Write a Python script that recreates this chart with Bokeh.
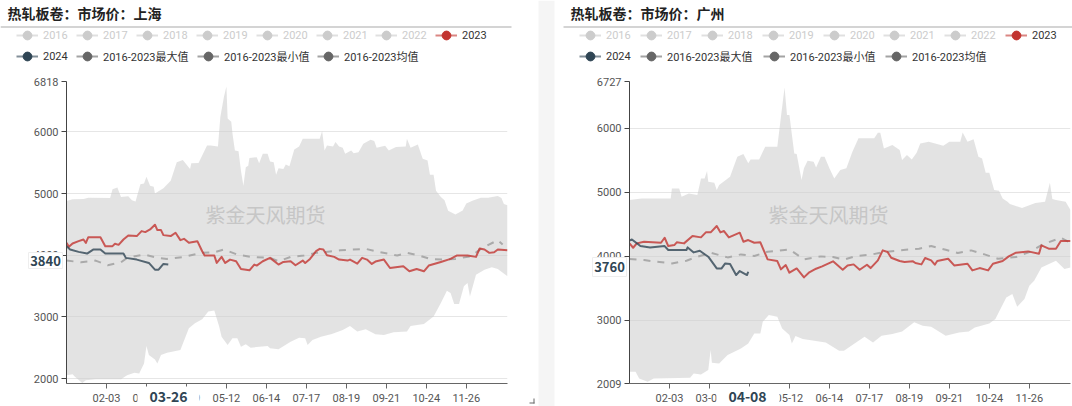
from bokeh.embed import file_html
from bokeh.resources import INLINE
from bokeh.layouts import column, row
from bokeh.plotting import figure
from bokeh.models import (BoxAnnotation, ColumnDataSource, FixedTicker, Label, Legend, LegendItem, Range1d)

FONT = "Roboto, 'Noto Sans CJK SC'"
CJK = "'Noto Sans CJK SC'"

legend_off = ["2016", "2017", "2018", "2019", "2020", "2021", "2022"]
name_2023 = "2023"
name_2024 = "2024"
names_band = ["2016-2023最大值", "2016-2023最小值", "2016-2023均值"]

tick_days = [33, 66, 99, 132, 165, 198, 231, 264, 297, 330]
tick_labels = ["02-03", "03-07", "04-09", "05-12", "06-14", "07-17", "08-19", "09-21", "10-24", "11-26"]

# ---------- Shanghai ----------
sh_title = "热轧板卷：市场价：上海"
sh_yticks = [2000, 3000, 4000, 5000, 6000, 6818]
sh_ymin = 1919
sh_max_days = [0,5,14,18,36,38,42,45,51,54,57,61,64,66,69,72,73,80,86,91,96,102,103,109,116,119,125,127,130,132,133,136,137,139,142,144,146,148,150,151,157,159,162,166,168,171,173,175,179,181,184,188,192,195,204,209,211,213,215,220,222,225,228,230,235,237,241,245,251,254,256,263,266,272,280,281,284,290,294,298,300,303,305,309,312,315,321,327,330,335,342,348,356,359,361,364]
sh_max_vals = [4880,4907,4912,4934,4930,5071,5098,4945,4956,4890,4870,5153,5164,5273,5125,5109,5000,5087,5208,5508,5546,5400,5492,5497,5781,5781,5765,6246,6574,6738,6218,6164,5973,5700,5685,5372,5125,5426,5450,5579,5590,5492,5645,5645,5519,5508,5306,5410,5400,5470,5443,5716,5765,5890,5890,5890,6016,5700,5781,5765,5836,5765,5743,5645,5700,5656,5672,5809,5874,5852,5743,5776,5700,5754,5765,5890,5743,5798,5563,5535,5306,5306,5044,4945,4890,4720,4660,4724,4838,4885,4934,4934,4962,4930,4830,4810]
sh_min_days = [0,5,7,13,16,24,45,50,56,60,64,66,68,73,75,78,83,94,101,106,112,117,122,126,128,133,137,141,144,148,152,166,168,175,185,192,197,199,203,210,219,228,234,240,247,255,262,270,281,284,295,303,309,314,317,320,324,328,331,333,338,345,351,356,364]
sh_min_vals = [2054,2071,2027,1929,1973,1989,1989,2054,2092,2082,2245,2527,2380,2310,2245,2380,2418,2462,2815,2897,2962,3087,3103,2842,2679,2543,2652,2652,2516,2554,2500,2527,2489,2473,2598,2663,2652,2543,2625,2679,2723,2788,2853,2761,2799,2717,2707,2750,2761,2853,2886,3005,3223,3424,3386,3207,3207,3495,3549,3332,3685,3766,3804,3777,3658]
sh_2023_days = [0,2,5,10,14,16,18,28,32,38,40,43,47,51,58,62,65,69,73,75,78,80,86,90,94,97,101,108,112,114,122,124,128,131,135,140,144,151,155,157,162,168,175,179,185,189,195,197,201,206,209,212,215,221,225,232,234,240,244,248,252,255,262,267,278,283,289,295,299,309,317,322,331,338,341,345,349,353,356,364]
sh_2023_vals = [4201,4136,4190,4228,4255,4201,4293,4293,4147,4147,4185,4168,4255,4321,4310,4391,4375,4418,4495,4408,4408,4326,4310,4364,4245,4266,4201,4228,4065,3995,3995,3875,3973,3875,3929,3902,3777,3755,3848,3832,3902,3957,3848,3891,3902,3837,3913,3875,3940,4065,4103,4092,4000,3973,3929,3913,3929,3864,3957,3929,3859,3897,3929,3793,3820,3739,3777,3739,3832,3891,3940,3995,3995,3973,4109,4092,4038,4049,4092,4081]
sh_2024_days = [0,3,10,17,22,28,32,47,49,58,68,73,76,80,84]
sh_2024_vals = [4147,4092,4054,4027,4092,4092,4027,4027,3957,3929,3875,3766,3766,3859,3848]
sh_mean_days = [0,12,24,34,45,50,64,75,83,97,111,122,130,141,152,168,175,185,196,206,214,226,236,247,259,273,281,291,300,311,321,334,342,356,360]
sh_mean_vals = [3913,3886,3913,3837,3886,3957,4011,3957,3940,3973,4038,4049,4092,4011,3973,3957,3902,3973,3995,4038,4054,4081,4092,4103,4049,3995,4038,3995,3940,3929,3940,3984,4103,4245,4174]
sh_pointer_value = "3840"
sh_pointer_day = "03-26"

# ---------- Guangzhou ----------
gz_title = "热轧板卷：市场价：广州"
gz_yticks = [2009, 3000, 4000, 5000, 6000, 6727]
gz_ymin = 2009
gz_max_days = [0,10,16,34,35,41,43,49,56,59,62,64,65,70,72,74,83,89,94,98,100,107,112,122,125,128,130,132,136,138,142,144,147,152,154,158,161,165,169,174,179,184,189,202,205,207,210,217,223,225,229,233,237,240,247,259,264,273,275,279,284,288,291,294,297,301,305,308,312,314,324,335,343,347,349,352,360,364]
gz_max_vals = [4875,4901,4901,4901,5057,5057,4927,4979,4953,5213,5213,5328,5161,5146,5031,5109,5240,5552,5594,5448,5510,5510,5708,5708,6177,6635,6203,6203,5604,5594,5187,5370,5490,5474,5385,5552,5552,5370,5213,5344,5370,5630,5839,5839,5927,5927,5682,5734,5656,5500,5578,5510,5614,5760,5786,5724,5786,5786,5932,5786,5823,5552,5526,5302,5302,5031,5021,4901,4849,4812,4750,4828,4850,5146,4890,4875,4850,4720]
gz_min_days = [0,5,8,15,20,50,53,59,65,67,68,74,81,92,98,103,108,110,115,122,126,132,134,137,143,162,173,177,187,194,201,208,217,225,235,242,249,261,272,280,285,297,302,311,316,320,326,330,334,340,352,359,364]
gz_min_vals = [2193,2193,2089,2036,2089,2099,2167,2151,2219,2531,2333,2323,2453,2557,2635,2792,2792,2974,3078,3052,2870,2766,2635,2750,2703,2651,2521,2521,2651,2739,2651,2755,2781,2823,2964,2911,2896,2755,2807,2823,2885,2948,3015,3354,3406,3208,3328,3536,3614,3823,3927,3797,3823]
gz_2023_days = [0,3,6,12,26,29,32,37,39,45,52,59,63,67,72,75,78,82,91,94,98,103,108,114,122,125,129,132,138,144,148,154,159,168,176,180,185,190,196,199,205,209,213,216,223,227,234,236,241,244,249,252,254,263,268,279,283,289,296,300,308,313,319,329,338,340,346,352,356,364]
gz_2023_vals = [4198,4130,4198,4224,4208,4286,4156,4172,4214,4198,4312,4292,4370,4370,4469,4370,4391,4292,4365,4224,4250,4208,4214,3948,3922,3792,3859,3740,3807,3667,3740,3802,3839,3917,3786,3854,3870,3786,3865,3812,3932,4089,4063,3974,3922,3906,3917,3891,3870,3969,3932,3865,3922,3958,3854,3880,3776,3812,3776,3880,3922,3995,4052,4073,4036,4167,4115,4115,4234,4234]
gz_2024_days = [0,2,9,17,29,32,47,48,53,58,65,72,76,79,83,88,91,97,98]
gz_2024_vals = [4240,4260,4156,4135,4156,4094,4094,4135,4057,4083,3990,3807,3807,3885,3875,3703,3766,3703,3755]
gz_mean_days = [0,12,23,35,47,56,67,81,92,103,114,122,132,144,158,168,177,187,199,210,228,239,249,261,271,282,293,304,319,330,341,356,363]
gz_mean_vals = [3953,3937,3911,3885,3927,3990,4052,3979,4026,4000,4068,4083,4104,3948,3995,3984,3943,4000,4021,4062,4099,4115,4156,4099,4047,4089,4026,3958,3984,4062,4182,4286,4219]
gz_pointer_value = "3760"
gz_pointer_day = "04-08"

W, H = 1072, 406
NO_POINT = float("nan")  # legend keys only: these series are switched off or shown as the band

# Transparent layer spanning the page: headers, legends, watermark and pointer labels.
top = figure(width=W, height=H, output_backend="svg", toolbar_location=None,
             x_range=Range1d(0, W), y_range=Range1d(0, H), min_border=0, outline_line_color=None,
             x_axis_location=None, y_axis_location=None,
             styles={"position": "absolute", "left": "0px", "top": "0px", "pointer-events": "none"})
top.background_fill_alpha = 0
top.border_fill_alpha = 0
top.grid.visible = False


def box(left, right, y_top, y_bottom, color, line="white", level="annotation"):
    top.add_layout(BoxAnnotation(left=left, right=right, top=H - y_top, bottom=H - y_bottom,
                                 left_units="screen", right_units="screen", top_units="screen",
                                 bottom_units="screen", fill_color=color, fill_alpha=1, line_color=line,
                                 line_alpha=1 if line != "white" else 0,
                                 level=level, editable=False))


def text(s, x, y, size, color, font=CJK, style="normal", align="center"):
    top.add_layout(Label(x=x, y=H - y, x_units="screen", y_units="screen", text=s, text_font=font,
                         text_font_size=f"{size}px", text_color=color, text_font_style=style,
                         text_align=align, text_baseline="middle"))


def legend(name, x, y_center, color, text_color):
    src = ColumnDataSource(data=dict(x=[NO_POINT], y=[NO_POINT]))
    ln = top.line("x", "y", source=src, line_color=color, line_width=2, line_alpha=0.6)
    sc = top.scatter("x", "y", source=src, marker="circle", fill_color=color, line_color=color)
    top.add_layout(Legend(items=[LegendItem(label=name, renderers=[ln, sc])],
                          location=(x, H - y_center - 12),
                          orientation="horizontal", glyph_width=22, glyph_height=24, label_standoff=5,
                          label_text_font=FONT, label_text_font_size="11px", label_text_color=text_color,
                          padding=0, margin=0, spacing=0, border_line_alpha=0, background_fill_alpha=0,
                          click_policy="none"))


def chart(width, frame_left, frame_right, yticks, ymin, ymax, max_d, max_v, min_d, min_v, d23, v23, d24, v24, dm, vm):
    p = figure(width=width, height=H, output_backend="svg", toolbar_location=None,
               x_range=Range1d(0, 364), y_range=Range1d(ymin, ymax),
               min_border_left=frame_left, min_border_right=width - frame_right,
               min_border_top=81, min_border_bottom=23, outline_line_color=None,
               background_fill_color="white", border_fill_color="white")
    p.xaxis.ticker = FixedTicker(ticks=tick_days)
    p.xaxis.major_label_overrides = dict(zip(tick_days, tick_labels))
    p.yaxis.ticker = FixedTicker(ticks=yticks)
    p.ygrid.ticker = FixedTicker(ticks=yticks)
    p.xgrid.visible = False
    p.ygrid.grid_line_color = "#e6e6e6"
    for ax, col in ((p.xaxis, "#666666"), (p.yaxis, "#444444")):
        ax.axis_line_color = col
        ax.axis_line_width = 1
        ax.major_tick_line_color = col
        ax.major_tick_out = 5
        ax.major_tick_in = 0
        ax.minor_tick_line_color = None
        ax.major_label_text_font = FONT
        ax.major_label_text_font_size = "11px"
        ax.major_label_text_color = "#555555"
    p.xaxis.major_label_standoff = 5
    p.yaxis.major_label_standoff = 3
    p.patch(max_d + min_d[::-1], max_v + min_v[::-1], fill_color="#cccccc", fill_alpha=0.55, line_alpha=0)
    p.line(dm, vm, line_color="#aaaaaa", line_width=2, line_dash=[7, 7])
    p.line(d23, v23, line_color="#c23531", line_width=2, line_alpha=0.8, line_join="round")
    p.line(d24, v24, line_color="#2f4554", line_width=2, line_alpha=0.8, line_join="round")
    return p


p1 = chart(537, 66, 507, sh_yticks, sh_ymin, 6818, sh_max_days, sh_max_vals, sh_min_days, sh_min_vals,
           sh_2023_days, sh_2023_vals, sh_2024_days, sh_2024_vals, sh_mean_days, sh_mean_vals)
p2 = chart(535, 92, 533, gz_yticks, gz_ymin, 6727, gz_max_days, gz_max_vals, gz_min_days, gz_min_vals,
           gz_2023_days, gz_2023_vals, gz_2024_days, gz_2024_vals, gz_mean_days, gz_mean_vals)


def header(title, title_x, rule_left, rule_right, row1_x, row2_x, wm_x, pv, pv_box, pd, pd_box, pd_x):
    for n, x in zip(legend_off + [name_2023], row1_x):
        off = n != name_2023
        legend(n, x, 35, "#cccccc" if off else "#c23531", "#cccccc" if off else "#333333")
    for n, x, c in zip([name_2024] + names_band, row2_x, ["#2f4554", "#666666", "#666666", "#666666"]):
        legend(n, x, 56, c, "#333333")
    box(rule_left, rule_right, 26, 27, "#aaaaaa")
    text(title, title_x, 12, 14, "#222222", style="bold", align="left")
    text("紫金天风期货", wm_x, 214, 20, "#c6c6c6")
    box(pv_box[0], pv_box[1], pv_box[2], pv_box[3], "white", line="#eeeeee")
    text(pv, (pv_box[0] + pv_box[1]) / 2, (pv_box[2] + pv_box[3]) / 2, 13, "#2f4554", style="bold")
    box(pd_box[0], pd_box[1], 386, 406, "white")
    text(pd, pd_x, 396, 14, "#2f4554", style="bold")


box(538, 554, 0, 406, "#f5f5f5")
header(sh_title, 7, 0, 511, [16, 76, 136, 196, 256, 316, 375, 435], [16, 76, 197, 317], 265,
       sh_pointer_value, (28, 62, 252, 268), sh_pointer_day, (137, 199), 168)
header(gz_title, 570, 563, 1072, [579, 640, 701, 762, 823, 883, 944, 1005], [579, 640, 763, 885], 828,
       gz_pointer_value, (592, 626, 257, 276), gz_pointer_day, (716, 779), 747)
box(533, 534, 398, 403, "#666666")
box(529, 534, 402, 403, "#666666")

page = column(row(p1, p2), top, styles={"position": "absolute", "left": "0px", "top": "0px"})
open("out.html", "w").write(file_html(page, INLINE))
